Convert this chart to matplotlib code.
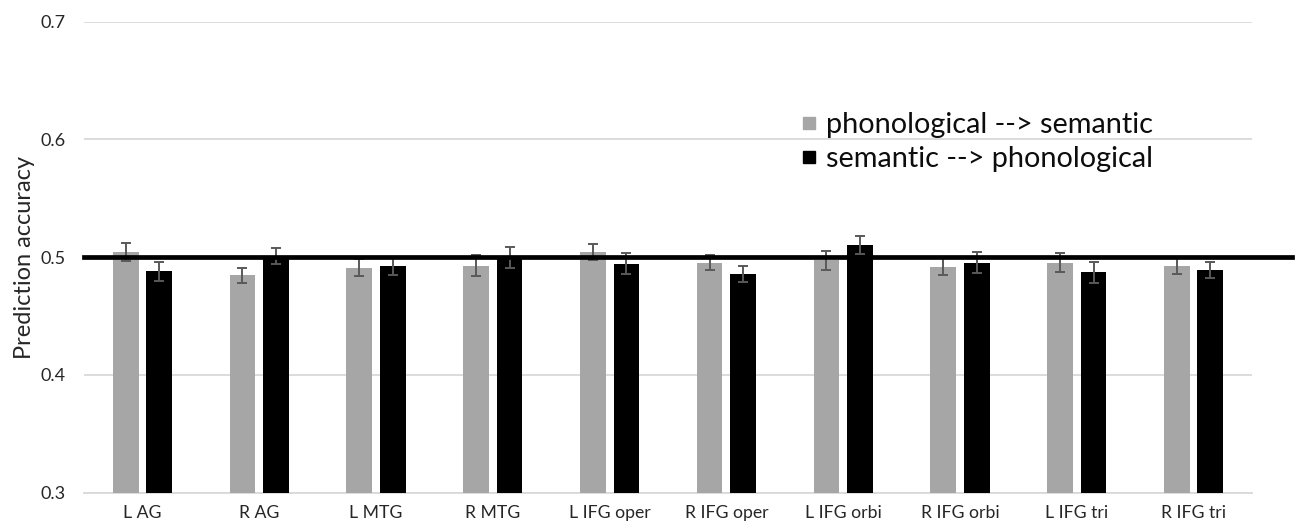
import numpy as np
import matplotlib.pyplot as plt
from matplotlib.lines import Line2D

plt.rcParams['font.family'] = ['Lato', 'DejaVu Sans']

# regiões de interesse
regions = ['L AG', 'R AG', 'L MTG', 'R MTG', 'L IFG oper', 'R IFG oper',
           'L IFG orbi', 'R IFG orbi', 'L IFG tri', 'R IFG tri']

# phonological --> semantic
phon_sem = [0.5045, 0.4845, 0.4910, 0.4927, 0.5045, 0.4955, 0.4975, 0.4918, 0.4955, 0.4927]
phon_sem_err = [0.0076, 0.0060, 0.0072, 0.0090, 0.0066, 0.0065, 0.0080, 0.0073, 0.0080, 0.0072]

# semantic --> phonological
sem_phon = [0.4880, 0.5010, 0.4927, 0.5000, 0.4946, 0.4856, 0.5102, 0.4955, 0.4873, 0.4890]
sem_phon_err = [0.0080, 0.0068, 0.0075, 0.0090, 0.0090, 0.0066, 0.0075, 0.0090, 0.0090, 0.0070]

chance = 0.5
yticks = [0.3, 0.4, 0.5, 0.6, 0.7]

fig = plt.figure(figsize=(12.99, 5.27), dpi=100)
ax = fig.add_axes([0.0647, 0.0651, 0.8991, 0.8937])

x = np.arange(len(regions))
w = 0.22
off = 0.1435
err_kw = dict(ecolor='#595959', elinewidth=1.4, capsize=3.6, capthick=1.4)

ax.bar(x - off, phon_sem, w, yerr=phon_sem_err, color='#a6a6a6',
       error_kw=err_kw, zorder=3)
ax.bar(x + off, sem_phon, w, yerr=sem_phon_err, color='black',
       error_kw=err_kw, zorder=3)

# linha do acaso (passa um pouco da borda direita)
ax.axhline(chance, xmin=0, xmax=1.034, color='black', lw=3.4,
           zorder=4, clip_on=False)

ax.set_xlim(-0.5, len(regions) - 0.5)
ax.set_ylim(0.3, 0.7)
ax.set_yticks(yticks)
ax.set_yticklabels([f'{t:.1f}' for t in yticks])
ax.set_xticks(x)
ax.set_xticklabels(regions)
ax.tick_params(length=0, labelsize=12.7, colors='#262626')
ax.tick_params(axis='y', labelsize=13, pad=13)
ax.tick_params(axis='x', pad=9)
ax.yaxis.grid(True, color='#d9d9d9', lw=1.3, zorder=0)
for s in ['top', 'right', 'left']:
    ax.spines[s].set_visible(False)
ax.spines['bottom'].set_color('#d9d9d9')
ax.spines['bottom'].set_linewidth(1.3)
ax.set_ylabel('Prediction accuracy', fontsize=17, labelpad=4, color='#262626')

handles = [
    Line2D([], [], marker='s', ls='', color='#a6a6a6', markersize=8),
    Line2D([], [], marker='s', ls='', color='black', markersize=8),
]
fig.legend(handles, ['phonological --> semantic', 'semantic --> phonological'],
           loc='upper left', bbox_to_anchor=(0.607, 0.809), frameon=False,
           fontsize=20.8, handletextpad=0.3, handlelength=0.6, labelspacing=0.28,
           borderaxespad=0, labelcolor='#0d0d0d')

fig.savefig('out.png', dpi=100)
